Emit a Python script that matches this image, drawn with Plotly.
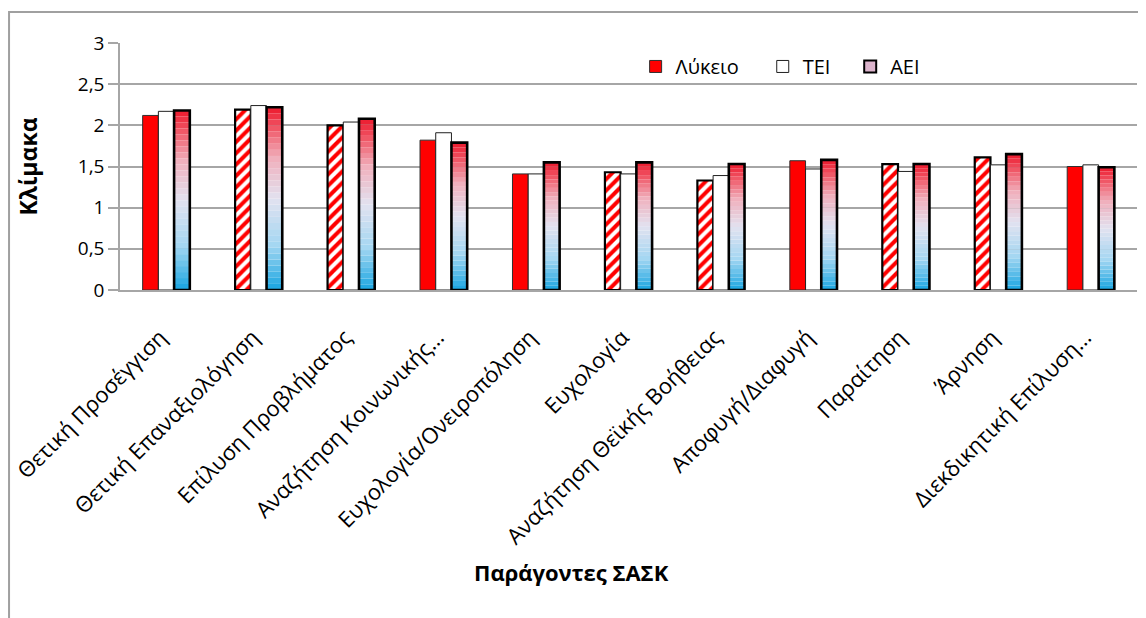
import plotly.graph_objects as go

categories = ["Θετική Προσέγγιση", "Θετική Επαναξιολόγηση", "Επίλυση Προβλήματος",
              "Αναζήτηση Κοινωνικής…", "Ευχολογία/Ονειροπόληση", "Ευχολογία",
              "Αναζήτηση Θεϊκής Βοήθειας", "Αποφυγή/Διαφυγή", "Παραίτηση", "Άρνηση",
              "Διεκδικητική Επίλυση…"]
lykeio = [2.12, 2.19, 2.00, 1.82, 1.41, 1.43, 1.33, 1.57, 1.53, 1.61, 1.50]
tei = [2.17, 2.24, 2.04, 1.91, 1.41, 1.41, 1.39, 1.47, 1.44, 1.52, 1.52]
aei = [2.18, 2.22, 2.08, 1.79, 1.55, 1.55, 1.53, 1.58, 1.53, 1.65, 1.49]
lykeio_hatched = [False, True, True, False, False, True, True, False, True, True, False]
y_ticks = [0, 0.5, 1, 1.5, 2, 2.5, 3]
y_tick_labels = ["0", "0,5", "1", "1,5", "2", "2,5", "3"]

FONT = "Open Sans"
GRID = "#a6a6a6"

fig = go.Figure()

# Λύκειο: solid red or red hatched
fig.add_trace(go.Bar(
    x=categories, y=lykeio, name="Λύκειο", offsetgroup="L", legend="legend",
    marker=dict(
        color="#ff0000",
        line=dict(color=["black" if h else "#303030" for h in lykeio_hatched],
                  width=[2.2 if h else 1 for h in lykeio_hatched]),
        pattern=dict(shape=["/" if h else "" for h in lykeio_hatched],
                     fgcolor="#ff0000", bgcolor="white", fgopacity=1,
                     fillmode="replace", size=8, solidity=0.5),
    ),
))

# TEI: white
fig.add_trace(go.Bar(
    x=categories, y=tei, name="TEI", offsetgroup="T", legend="legend2",
    marker=dict(color="white", line=dict(color="#202020", width=1)),
))

# AEI: vertical gradient red -> white -> blue, built from stacked slices of each bar
stops = [(0.0, (25, 165, 225)), (0.25, (165, 215, 242)), (0.5, (226, 226, 240)),
         (0.72, (240, 175, 188)), (0.88, (240, 90, 105)), (1.0, (236, 25, 45))]


def grad(t):
    for (t0, c0), (t1, c1) in zip(stops[:-1], stops[1:]):
        if t <= t1:
            f = (t - t0) / (t1 - t0)
            return "rgb(%d,%d,%d)" % tuple(round(a + (b - a) * f) for a, b in zip(c0, c1))
    return "rgb(%d,%d,%d)" % stops[-1][1]


N = 30
for k in range(N):
    fig.add_trace(go.Bar(
        x=categories, y=[v / N for v in aei], base=[v * k / N for v in aei],
        offsetgroup="A", showlegend=False, hoverinfo="skip",
        marker=dict(color=grad((k + 0.5) / N), line=dict(width=0)),
    ))

# AEI outline
fig.add_trace(go.Bar(
    x=categories, y=aei, offsetgroup="A", showlegend=False,
    marker=dict(color="rgba(0,0,0,0)", line=dict(color="black", width=2.6)),
))
# AEI legend swatch
fig.add_trace(go.Bar(
    x=[categories[0]], y=[None], name="AEI", offsetgroup="A", legend="legend3",
    marker=dict(color="#dcb4cc", line=dict(color="black", width=2)),
))

leg_common = dict(orientation="h", y=0.905, xanchor="left", yanchor="middle",
                  font=dict(size=20, family=FONT), bgcolor="rgba(255,255,255,0)",
                  itemwidth=30)

fig.update_layout(
    width=1138, height=610,
    margin=dict(l=112, r=9, t=35, b=328, autoexpand=False),
    paper_bgcolor="white", plot_bgcolor="white",
    barmode="group", bargap=0.49, bargroupgap=0,
    font=dict(family=FONT, color="black"),
    showlegend=True,
    legend=dict(x=0.507, **leg_common),
    legend2=dict(x=0.632, **leg_common),
    legend3=dict(x=0.718, **leg_common),
    xaxis=dict(
        automargin=False,
        tickangle=-45, tickfont=dict(size=22, family=FONT),
        showline=True, linecolor=GRID, linewidth=1.5, ticks="",
        ticklabelstandoff=24, ticklabelshift=-6, showgrid=False,
    ),
    yaxis=dict(
        automargin=False,
        range=[0, 3], tickvals=y_ticks, ticktext=y_tick_labels,
        ticksuffix='<span style="color:rgba(0,0,0,0)">0</span>',
        tickfont=dict(size=19, family=FONT),
        showgrid=True, gridcolor=GRID, gridwidth=1.5,
        showline=True, linecolor=GRID, linewidth=1.5,
        ticks="outside", ticklen=10, tickcolor=GRID, tickwidth=1.5,
        zeroline=False,
    ),
    annotations=[
        dict(text="<b>Παράγοντες ΣΑΣΚ</b>", xref="paper", yref="paper",
             x=0.444, y=-1.14, xanchor="center", yanchor="middle",
             showarrow=False, font=dict(size=22, family=FONT)),
        dict(text="<b>Κλίμακα</b>", xref="paper", yref="paper",
             x=-0.0905, y=0.5, xanchor="center", yanchor="middle", textangle=-90,
             showarrow=False, font=dict(size=23, family=FONT)),
    ],
    shapes=[dict(type="rect", xref="paper", yref="paper",
                 x0=-0.1091, x1=1.2, y0=-2.0, y1=1.1255,
                 line=dict(color="#a0a0a0", width=2), fillcolor="rgba(0,0,0,0)",
                 layer="above")],
)

fig.write_html("out.html")
